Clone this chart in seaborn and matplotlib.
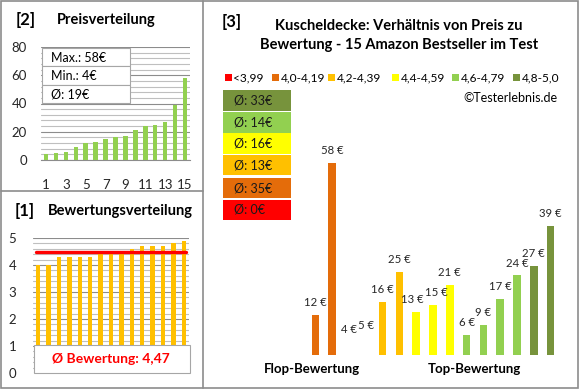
import numpy as np
import pandas as pd
import matplotlib
matplotlib.use("Agg")
import matplotlib.pyplot as plt
import seaborn as sns
from matplotlib.patches import Rectangle
from matplotlib.lines import Line2D

# --- data ---
price_sorted = [4, 5, 6, 9, 12, 13, 15, 16, 17, 21, 24, 25, 27, 39, 58]
rating_sorted = [4.0, 4.0, 4.3, 4.3, 4.3, 4.3, 4.4, 4.4, 4.4, 4.6, 4.7, 4.7, 4.7, 4.8, 4.9]
rating_avg = 4.47
price_stats = ["Max.: 58€", "Min.: 4€", "Ø: 19€"]

# right chart: products ordered from flop to top rating
ratio_prices = [12, 58, 4, 5, 16, 25, 13, 15, 21, 6, 9, 17, 24, 27, 39]
ratio_groups = ["4,0-4,19", "4,0-4,19", "4,2-4,39", "4,2-4,39", "4,2-4,39", "4,2-4,39",
                "4,4-4,59", "4,4-4,59", "4,4-4,59", "4,6-4,79", "4,6-4,79", "4,6-4,79",
                "4,6-4,79", "4,8-5,0", "4,8-5,0"]
ratio_shown = [True, True, False, False] + [True] * 11

group_names = ["<3,99", "4,0-4,19", "4,2-4,39", "4,4-4,59", "4,6-4,79", "4,8-5,0"]
group_avgs = ["0€", "35€", "13€", "16€", "14€", "33€"]
group_colors = ["#FF0000", "#E46C0A", "#FFC000", "#FFFF00", "#92D050", "#77933C"]

W, H = 580, 390
GRID_MINOR = "#BFBFBF"
GRID_MAJOR = "#8C8C8C"
FRAME = "#8C8C8C"
FONT = "Lato"

sns.set_style("white")
plt.rcParams["font.family"] = [FONT, "DejaVu Sans"]

fig = plt.figure(figsize=(W / 100, H / 100), dpi=100)


def fx(x):
    return x / W


def fy(y):
    return 1 - y / H


def axes_px(l, t, r, b):
    return fig.add_axes([fx(l), fy(b), (r - l) / W, (b - t) / H])


def text_px(x, y, s, **kw):
    kw.setdefault("va", "center")
    kw.setdefault("color", "black")
    fig.text(fx(x), fy(y), s, **kw)


# --- frames ---
fig.add_artist(Rectangle((fx(1), fy(388)), (577) / W, 387 / H, transform=fig.transFigure,
                         fill=False, edgecolor=FRAME, lw=1.2))
fig.add_artist(Line2D([fx(203), fx(203)], [fy(1), fy(388)], color=FRAME, lw=1.2))
fig.add_artist(Line2D([fx(1), fx(203)], [fy(191), fy(191)], color=FRAME, lw=1.2))

# --- [2] Preisverteilung ---
ax1 = axes_px(41, 47, 190, 160)
df1 = pd.DataFrame({"pos": range(1, 16), "price": price_sorted})
sns.barplot(data=df1, x="pos", y="price", color="#92D050", width=0.45, ax=ax1,
            saturation=1, linewidth=0, zorder=3)
ax1.set_ylim(0, 80)
ax1.set_yticks(range(0, 81, 20))
ax1.set_yticks(range(0, 81, 4), minor=True)
ax1.grid(which="minor", axis="y", color=GRID_MINOR, lw=0.8, zorder=0)
ax1.grid(which="major", axis="y", color=GRID_MAJOR, lw=0.8, zorder=0)
ax1.set_xticks(range(0, 15, 2))
ax1.set_xticklabels([str(i) for i in range(1, 16, 2)])
ax1.set_xlabel("")
ax1.set_ylabel("")
ax1.tick_params(axis="both", length=0, labelsize=9.5)
ax1.tick_params(axis="x", pad=14)
ax1.tick_params(axis="y", pad=10)
for s in ["left", "right", "top"]:
    ax1.spines[s].set_visible(False)
ax1.spines["bottom"].set_color(GRID_MAJOR)
ax1.set_axisbelow(True)

# stats box
for i, s in enumerate(price_stats):
    top = 48 + i * 18.3
    fig.add_artist(Rectangle((fx(42), fy(top + 18.3)), 88 / W, 18.3 / H,
                             transform=fig.transFigure, facecolor="white",
                             edgecolor="#A6A6A6", lw=0.8, zorder=5))
    text_px(51, top + 9.5, s, fontsize=9, zorder=6)

text_px(16, 20, "[2]", fontsize=12, fontweight="bold")
text_px(57, 20, "Preisverteilung", fontsize=10.5, fontweight="bold")

# --- [1] Bewertungsverteilung ---
ax2 = axes_px(33, 238, 189, 373)
df2 = pd.DataFrame({"pos": range(1, 16), "rating": rating_sorted})
sns.barplot(data=df2, x="pos", y="rating", color="#FFC000", width=0.42, ax=ax2,
            saturation=1, linewidth=0, zorder=3)
ax2.axhline(rating_avg, xmin=0.02, xmax=0.98, color="#FF0000", lw=2.4, zorder=4)
ax2.set_ylim(0, 5)
ax2.set_yticks(range(0, 6))
ax2.set_yticks(np.arange(0, 5.01, 0.2), minor=True)
ax2.grid(which="minor", axis="y", color=GRID_MINOR, lw=0.8, zorder=0)
ax2.grid(which="major", axis="y", color=GRID_MAJOR, lw=0.8, zorder=0)
ax2.set_xticks([])
ax2.set_xlabel("")
ax2.set_ylabel("")
ax2.tick_params(axis="y", length=4, color=GRID_MAJOR, labelsize=9.5, pad=8)
for s in ["left", "right", "top", "bottom"]:
    ax2.spines[s].set_visible(False)
ax2.set_axisbelow(True)

fig.add_artist(Rectangle((fx(34), fy(373)), 156 / W, 28 / H, transform=fig.transFigure,
                         facecolor="white", edgecolor="#A6A6A6", lw=0.8, zorder=5))
text_px(111, 359, "Ø Bewertung: " + f"{rating_avg:.2f}".replace(".", ","),
        fontsize=10, fontweight="bold", color="#FF0000", ha="center", zorder=6)

text_px(15, 211, "[1]", fontsize=12, fontweight="bold")
text_px(48, 211, "Bewertungsverteilung", fontsize=10.5, fontweight="bold")

# --- [3] Verhältnis von Preis zu Bewertung ---
ax3 = axes_px(307, 123, 559, 355)
df3 = pd.DataFrame({"pos": range(15), "price": ratio_prices, "group": ratio_groups})
color_map = dict(zip(group_names, group_colors))
sns.barplot(data=df3, x="pos", y="price", hue="group", palette=color_map, width=0.45,
            dodge=False, legend=False, saturation=1, linewidth=0, ax=ax3)
for patch, shown in zip(ax3.patches, ratio_shown):
    patch.set_visible(shown)
# small sideways nudge where two neighbouring labels would collide
nudge = {6: -2.5, 7: 2.5}
for i, v in enumerate(ratio_prices):
    ax3.annotate(f"{v} €", (i, v), xytext=(nudge.get(i, 0), 5), textcoords="offset points",
                 ha="center", va="bottom", fontsize=8.2)
ax3.set_xlim(-0.5, 14.5)
ax3.set_ylim(0, 70)
ax3.axis("off")

text_px(222, 22, "[3]", fontsize=12, fontweight="bold")
text_px(399, 26, "Kuscheldecke: Verhältnis von Preis zu", fontsize=10.5,
        fontweight="bold", ha="center")
text_px(399, 45, "Bewertung - 15 Amazon Bestseller im Test", fontsize=10.5,
        fontweight="bold", ha="center")

legend_x = [225, 272, 328, 392, 452, 513]
for x, name, col in zip(legend_x, group_names, group_colors):
    fig.add_artist(Rectangle((fx(x), fy(80.5)), 6.5 / W, 6.5 / H, transform=fig.transFigure,
                             facecolor=col, edgecolor="none"))
    text_px(x + 8.5, 77.5, name, fontsize=8.6)

text_px(557, 98, "©Testerlebnis.de", fontsize=9, ha="right")

# average boxes, best group on top
box_tops = [90, 112, 133.5, 155, 177.5, 199.5]
for top, avg, col in zip(box_tops, group_avgs[::-1], group_colors[::-1]):
    fig.add_artist(Rectangle((fx(223), fy(top + 20.5)), 68 / W, 20.5 / H,
                             transform=fig.transFigure, facecolor=col, edgecolor="none"))
    text_px(234, top + 10.5, f"Ø: {avg}", fontsize=9, color="#1a1a1a")

text_px(312, 369, "Flop-Bewertung", fontsize=9.5, fontweight="bold", ha="center")
text_px(474, 369, "Top-Bewertung", fontsize=9.5, fontweight="bold", ha="center")

fig.savefig("out.png", dpi=100)
